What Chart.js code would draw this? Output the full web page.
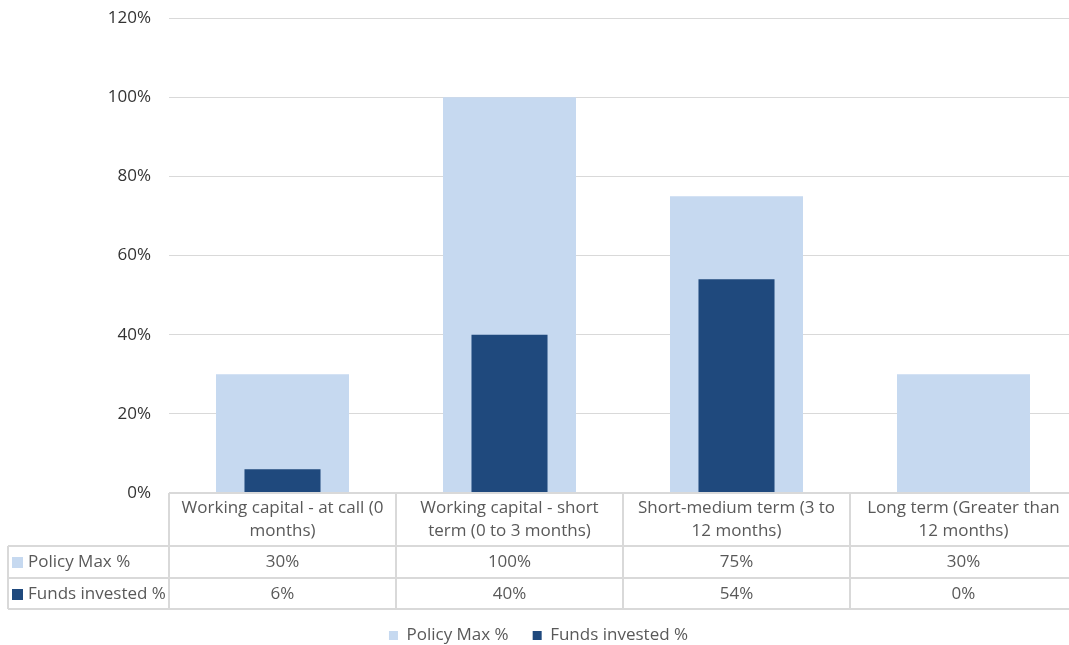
<!DOCTYPE html>
<html lang="en">
<head>
  <meta charset="UTF-8">
  <title>Policy Max vs Funds invested</title>
  <script src="https://cdn.jsdelivr.net/npm/chart.js"></script>
  <style>
    body {
      margin: 0;
      padding: 0;
      background: #fff;
      overflow: hidden;
    }
    #chart {
      display: block;
    }
  </style>
</head>
<body>
  <!-- a little wider than the window: the plot runs off the right edge like the original -->
  <canvas id="chart" width="1077" height="645"></canvas>
  <script>
    // data
    const categories = [
      ['Working capital - at call (0', 'months)'],
      ['Working capital - short', 'term (0 to 3 months)'],
      ['Short-medium term (3 to', '12 months)'],
      ['Long term (Greater than', '12 months)']
    ];
    const policyMax = [30, 100, 75, 30];
    const fundsInvested = [6, 40, 54, 0];
    const seriesNames = ['Policy Max %', 'Funds invested %'];
    const yTicks = [0, 20, 40, 60, 80, 100, 120];

    const FONT = "'Open Sans', 'Liberation Sans', sans-serif";
    const TEXT = '#595959';
    const AXIS_TEXT = '#333333';
    const LINE = '#d9d9d9';
    const LIGHT = '#c6d9f0';
    const DARK = '#1f497d';

    // draws the data table under the plot, Excel style
    const dataTable = {
      id: 'dataTable',
      afterDraw(chart) {
        const { ctx, chartArea, scales: { x } } = chart;
        const top = chartArea.bottom;
        const headH = 53, rowH = 32;
        const tableLeft = 8;
        const right = chartArea.right;
        const colW = (x.right - x.left) / categories.length;
        const bottom = top + headH + rowH * 2 - 1;

        ctx.save();
        ctx.strokeStyle = LINE;
        ctx.lineWidth = 2;
        ctx.beginPath();
        // horizontal lines
        ctx.moveTo(chartArea.left, top); ctx.lineTo(right, top);
        [top + headH, top + headH + rowH, bottom].forEach(y => {
          ctx.moveTo(tableLeft, y); ctx.lineTo(right, y);
        });
        // vertical lines
        ctx.moveTo(tableLeft, top + headH); ctx.lineTo(tableLeft, bottom);
        for (let i = 0; i < categories.length; i++) {
          const xl = x.getPixelForValue(i) - colW / 2;
          ctx.moveTo(xl, top); ctx.lineTo(xl, bottom);
        }
        ctx.stroke();

        ctx.font = '17px ' + FONT;
        ctx.fillStyle = TEXT;
        ctx.textAlign = 'center';
        ctx.textBaseline = 'middle';
        categories.forEach((lines, i) => {
          const cx = x.getPixelForValue(i);
          ctx.fillText(lines[0], cx, top + 15);
          ctx.fillText(lines[1], cx, top + 38);
          ctx.fillText(policyMax[i] + '%', cx, top + headH + rowH / 2);
          ctx.fillText(fundsInvested[i] + '%', cx, top + headH + rowH * 1.5);
        });

        // series keys in the left column
        ctx.textAlign = 'left';
        chart.data.datasets.forEach((ds, j) => {
          const cy = top + headH + rowH * (j + 0.5);
          ctx.fillStyle = ds.backgroundColor;
          ctx.fillRect(tableLeft + 4, cy - 5, 11, 11);
          ctx.fillStyle = TEXT;
          ctx.fillText(ds.label, tableLeft + 20, cy);
        });
        ctx.restore();
      }
    };

    new Chart(document.getElementById('chart'), {
      type: 'bar',
      data: {
        labels: categories,
        datasets: [
          {
            label: seriesNames[0],
            data: policyMax,
            backgroundColor: LIGHT,
            grouped: false,
            barPercentage: 0.586,
            categoryPercentage: 1,
            order: 1
          },
          {
            label: seriesNames[1],
            data: fundsInvested,
            backgroundColor: DARK,
            grouped: false,
            barPercentage: 0.335,
            categoryPercentage: 1,
            order: 0
          }
        ]
      },
      options: {
        responsive: false,
        devicePixelRatio: 1,
        animation: false,
        layout: { padding: { top: 18, left: 0, right: 0, bottom: -9 } },
        plugins: {
          tooltip: { enabled: false },
          legend: {
            position: 'bottom',
            labels: {
              boxWidth: 9,
              boxHeight: 9,
              padding: 24,
              color: TEXT,
              font: { family: FONT, size: 17 },
              sort: (a, b) => a.datasetIndex - b.datasetIndex
            }
          }
        },
        scales: {
          x: {
            ticks: { display: false },
            grid: { display: false },
            border: { display: false },
            afterFit: s => { s.height = 110; }
          },
          y: {
            min: yTicks[0],
            max: yTicks[yTicks.length - 1],
            afterBuildTicks: s => { s.ticks = yTicks.map(v => ({ value: v })); },
            afterFit: s => {
              s.width = 169;
              s.paddingTop = 0;
              s.paddingBottom = 0;
            },
            ticks: {
              padding: 18,
              color: AXIS_TEXT,
              font: { family: FONT, size: 17 },
              callback: v => v + '%'
            },
            grid: { color: LINE, drawTicks: false },
            border: { display: false }
          }
        }
      },
      plugins: [dataTable]
    });
  </script>
</body>
</html>
